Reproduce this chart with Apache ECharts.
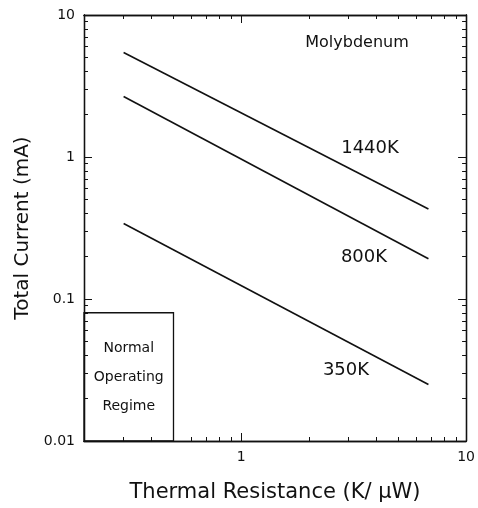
<!DOCTYPE html>
<html>
<head>
<meta charset="utf-8">
<script src="https://cdn.jsdelivr.net/npm/echarts@6/dist/echarts.min.js"></script>
<style>
  html, body { margin: 0; padding: 0; background: #fff; }
  #chart { width: 478px; height: 508px; }
</style>
</head>
<body>
<div id="chart"></div>
<script>
// thermal resistance (K/uW) at the two ends of each line
const resistance = [0.3, 6.8]
// total current (mA)
const current1440 = [5.45, 0.43]
const current800 = [2.67, 0.192]
const current350 = [0.34, 0.025]

// normal operating regime box corners
const regimeX = [0.2, 0.5]
const regimeY = [0.01, 0.08]

const xMajor = [1, 10]
const xMinor = [0.3, 0.4, 0.5, 0.6, 0.7, 0.8, 0.9, 2, 3, 4, 5, 6, 7, 8, 9]
const yMajor = [0.01, 0.1, 1, 10]
const yMinor = [0.02, 0.03, 0.04, 0.05, 0.06, 0.07, 0.08, 0.09,
  0.2, 0.3, 0.4, 0.5, 0.6, 0.7, 0.8, 0.9, 2, 3, 4, 5, 6, 7, 8, 9]

const font = '"DejaVu Sans", Verdana, sans-serif'
const black = '#111'

const makeAxis = (kind, pos, ticks, len, labels, extra) => Object.assign({
  type: 'log',
  logBase: 10,
  position: pos,
  min: kind === 'x' ? 0.2 : 0.01,
  max: 10,
  axisLine: { show: true, onZero: false, lineStyle: { color: black, width: 1.3 } },
  axisTick: { show: true, inside: true, length: len, customValues: ticks, lineStyle: { color: black } },
  axisLabel: labels
    ? { show: true, customValues: ticks, color: black, fontSize: 14, fontFamily: font, margin: 9,
        formatter: v => String(v) }
    : { show: false },
  splitLine: { show: false },
  minorTick: { show: false }
}, extra || {})

const chart = echarts.init(document.getElementById('chart'))

chart.setOption({
  animation: false,
  backgroundColor: '#fff',
  grid: { left: 84, right: 10, top: 15, bottom: 66 },
  xAxis: [
    makeAxis('x', 'bottom', xMajor, 8, true, {
      name: 'Thermal Resistance (K/ µW)',
      nameLocation: 'middle',
      nameGap: 41,
      nameTextStyle: { fontSize: 21, color: black, fontFamily: font }
    }),
    makeAxis('x', 'bottom', xMinor, 4, false),
    makeAxis('x', 'top', xMajor, 8, false),
    makeAxis('x', 'top', xMinor, 4, false)
  ],
  yAxis: [
    makeAxis('y', 'left', yMajor, 8, true, {
      name: 'Total Current (mA)',
      nameLocation: 'middle',
      nameGap: 48,
      nameTextStyle: { fontSize: 20, color: black, fontFamily: font }
    }),
    makeAxis('y', 'left', yMinor, 4, false),
    makeAxis('y', 'right', yMajor, 8, false),
    makeAxis('y', 'right', yMinor, 4, false)
  ],
  series: [
    {
      name: '1440K',
      type: 'line',
      data: resistance.map((r, i) => [r, current1440[i]]),
      symbol: 'none',
      lineStyle: { color: black, width: 1.6 },
      markArea: {
        silent: true,
        itemStyle: { color: 'rgba(0,0,0,0)', borderColor: black, borderWidth: 1.3 },
        label: {
          show: true,
          position: 'inside',
          formatter: 'Normal\nOperating\nRegime',
          color: black,
          fontSize: 14,
          fontFamily: font,
          lineHeight: 29,
          align: 'center'
        },
        data: [[{ coord: [regimeX[0], regimeY[0]] }, { coord: [regimeX[1], regimeY[1]] }]]
      }
    },
    {
      name: '800K',
      type: 'line',
      data: resistance.map((r, i) => [r, current800[i]]),
      symbol: 'none',
      lineStyle: { color: black, width: 1.6 }
    },
    {
      name: '350K',
      type: 'line',
      data: resistance.map((r, i) => [r, current350[i]]),
      symbol: 'none',
      lineStyle: { color: black, width: 1.6 }
    }
  ],
  graphic: [
    { type: 'text', x: 357, y: 43, style: { text: 'Molybdenum', fill: black, font: '16px ' + font, align: 'center', verticalAlign: 'middle' } },
    { type: 'text', x: 370, y: 148, style: { text: '1440K', fill: black, font: '18px ' + font, align: 'center', verticalAlign: 'middle' } },
    { type: 'text', x: 364, y: 257, style: { text: '800K', fill: black, font: '18px ' + font, align: 'center', verticalAlign: 'middle' } },
    { type: 'text', x: 346, y: 370, style: { text: '350K', fill: black, font: '18px ' + font, align: 'center', verticalAlign: 'middle' } }
  ]
})
</script>
</body>
</html>
